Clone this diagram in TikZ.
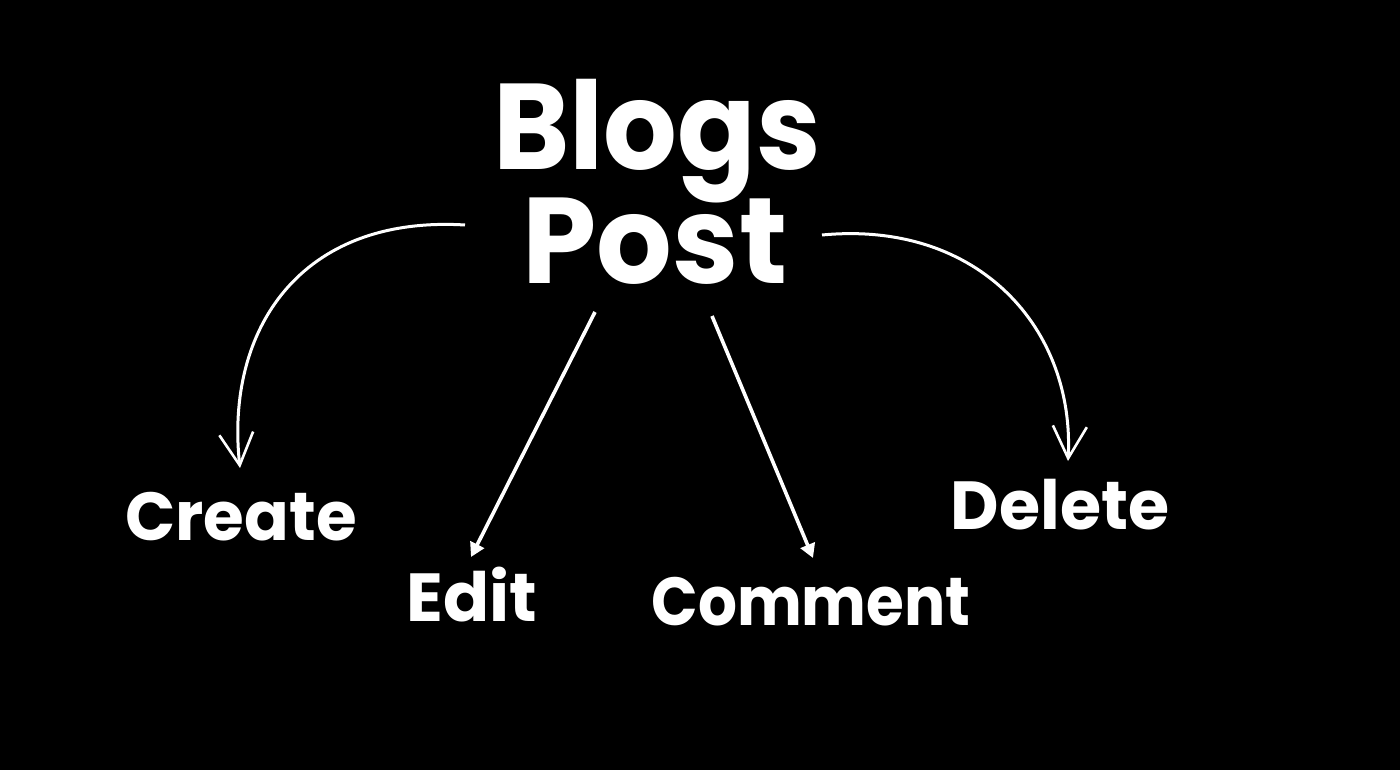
\documentclass[tikz,border=0pt]{standalone}
\usepackage{fontspec}
\setmainfont{Poppins}[BoldFont={* Bold}]
\usetikzlibrary{arrows.meta}
\begin{document}
\begin{tikzpicture}[x=1pt,y=-1pt,
  lbl/.style={text=white,font=\bfseries,inner sep=0pt,anchor=base},
  big/.style={font=\bfseries\fontsize{122}{122}\selectfont},
  small/.style={font=\bfseries\fontsize{68}{68}\selectfont},
  curvearrow/.style={draw=white,line width=3pt,-{Straight Barb[length=32pt,width=34pt,line width=2.6pt]}},
  straightarrow/.style={draw=white,line width=3.6pt,-{Triangle[length=14pt,width=15pt]}}]
\fill[black] (0,0) rectangle (1400,770);
\useasboundingbox (0,0) rectangle (1400,770);
\node[lbl,big,xscale=0.95] (blogs) at (657,170) {Blogs};
\node[lbl,big,xscale=0.975] (post) at (655,283) {Post};
\node[lbl,small,xscale=0.97] (create) at (241,540) {Create};
\node[lbl,small] (edit) at (472,621) {Edit};
\node[lbl,small,xscale=0.9] (comment) at (811,625) {Comment};
\node[lbl,small,xscale=0.98] (delete) at (1060,529) {Delete};
\coordinate (c1) at (465,225);
\coordinate (c2) at (240,468);
\coordinate (d1) at (822,235);
\coordinate (d2) at (1068,461);
\coordinate (e1) at (595,312);
\coordinate (e2) at (471,557);
\coordinate (m1) at (712,316);
\coordinate (m2) at (813,558);
\draw[curvearrow] (c1) .. controls (300,215) and (225,330) .. (c2);
\draw[curvearrow] (d1) .. controls (980,220) and (1075,330) .. (d2);
\draw[straightarrow] (e1) -- (e2);
\draw[straightarrow] (m1) -- (m2);
\end{tikzpicture}
\end{document}
